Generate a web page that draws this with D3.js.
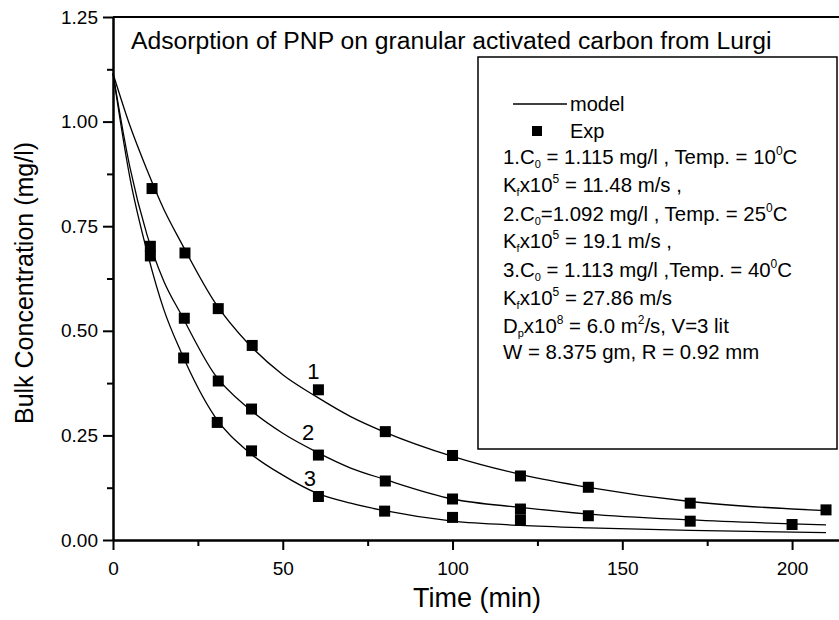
<!DOCTYPE html>
<meta charset="utf-8">
<style>
body { margin: 0; background: #fff; }
svg { background-color: #fff; font-family: "Liberation Sans", Arial, sans-serif; }
.axis path,
.axis line {
  fill: none;
  stroke: #000;
  stroke-width: 2;
}
.axis text {
  font-size: 19px;
  fill: #000;
}
.model {
  fill: none;
  stroke: #000;
  stroke-width: 1.3;
}
</style>
<svg width="839" height="620"></svg>
<script src="https://d3js.org/d3.v7.min.js"></script>
<script>

// experimental points (time in min, bulk concentration in mg/l)
var expTime1 = [11.5, 21.2, 31, 41, 60.5, 80.2, 100, 120, 140, 170, 210],
    expConc1 = [0.84, 0.686, 0.553, 0.465, 0.359, 0.259, 0.202, 0.153, 0.126, 0.088, 0.072];
var expTime2 = [11, 21, 31, 40.8, 60.5, 80.2, 100, 120, 140, 170, 200],
    expConc2 = [0.702, 0.530, 0.380, 0.313, 0.203, 0.141, 0.098, 0.074, 0.058, 0.045, 0.037];
var expTime3 = [11, 20.8, 30.7, 40.8, 60.5, 80, 100, 120],
    expConc3 = [0.679, 0.435, 0.281, 0.213, 0.104, 0.069, 0.054, 0.048];

// model curves
var modelTime = [0, 5, 10, 15, 20, 30, 40, 50, 60, 70, 80, 100, 120, 140, 170, 210];
var model1 = [1.115, 0.99, 0.885, 0.79, 0.712, 0.568, 0.468, 0.395, 0.342, 0.295, 0.258, 0.200, 0.157, 0.126, 0.092, 0.070],
    model2 = [1.115, 0.89, 0.73, 0.618, 0.54, 0.395, 0.314, 0.255, 0.210, 0.172, 0.145, 0.098, 0.078, 0.062, 0.048, 0.036],
    model3 = [1.115, 0.865, 0.69, 0.55, 0.45, 0.295, 0.210, 0.155, 0.112, 0.088, 0.070, 0.045, 0.035, 0.029, 0.023, 0.0175];

var curveLabels = ["1", "2", "3"],
    labelTime = [59, 57.5, 58],
    labelConc = [0.385, 0.24, 0.13];

var xTicks = [0, 50, 100, 150, 200],
    xMinor = [25, 75, 125, 175],
    yTicks = [0, 0.25, 0.5, 0.75, 1.0, 1.25],
    yMinor = [0.125, 0.375, 0.625, 0.875, 1.125];

var legendLines = [
  [["1.C", ""], ["0", "sub"], [" = 1.115 mg/l , Temp. = 10", ""], ["0", "sup"], ["C", ""]],
  [["K", ""], ["f", "sub"], ["x10", ""], ["5", "sup"], [" = 11.48 m/s ,", ""]],
  [["2.C", ""], ["0", "sub"], ["=1.092 mg/l , Temp. = 25", ""], ["0", "sup"], ["C", ""]],
  [["K", ""], ["f", "sub"], ["x10", ""], ["5", "sup"], [" = 19.1 m/s ,", ""]],
  [["3.C", ""], ["0", "sub"], [" = 1.113 mg/l ,Temp. = 40", ""], ["0", "sup"], ["C", ""]],
  [["K", ""], ["f", "sub"], ["x10", ""], ["5", "sup"], [" = 27.86 m/s", ""]],
  [["D", ""], ["p", "sub"], ["x10", ""], ["8", "sup"], [" = 6.0 m", ""], ["2", "sup"], ["/s, V=3 lit", ""]],
  [["W = 8.375 gm, R = 0.92 mm", ""]]
];
var legendBase = [164, 192, 221, 248, 277, 305, 333, 359];

var svg = d3.select("svg"),
    margin = {top: 17, right: -4, bottom: 80, left: 113},
    width = +svg.attr("width") - margin.left - margin.right,
    height = +svg.attr("height") - margin.top - margin.bottom;

var x = d3.scaleLinear().domain([0, 215]).range([0, width]);
var y = d3.scaleLinear().domain([0, 1.25]).range([height, 0]);

var g = svg.append("g")
    .attr("transform", "translate(" + margin.left + "," + margin.top + ")");

// minor ticks first, then major axes on top
g.append("g")
    .attr("class", "axis")
    .attr("transform", "translate(0," + height + ")")
    .call(d3.axisBottom(x).tickValues(xMinor).tickSize(6).tickSizeOuter(0).tickFormat(""));

g.append("g")
    .attr("class", "axis")
    .call(d3.axisLeft(y).tickValues(yMinor).tickSize(6).tickSizeOuter(0).tickFormat(""));

g.append("g")
    .attr("class", "axis")
    .attr("transform", "translate(0," + height + ")")
    .call(d3.axisBottom(x).tickValues(xTicks).tickSize(10).tickSizeOuter(0).tickPadding(12).tickFormat(d3.format("d")));

g.append("g")
    .attr("class", "axis")
    .call(d3.axisLeft(y).tickValues(yTicks).tickSize(10).tickSizeOuter(0).tickPadding(5).tickFormat(d3.format(".2f")));

// top frame
g.append("line")
    .attr("x1", 0).attr("x2", width)
    .attr("y1", 0).attr("y2", 0)
    .attr("stroke", "#000").attr("stroke-width", 2);

var line = d3.line()
    .x(function(d) { return x(d[0]); })
    .y(function(d) { return y(d[1]); })
    .curve(d3.curveMonotoneX);

[model1, model2, model3].forEach(function(m) {
  g.append("path")
      .attr("class", "model")
      .attr("d", line(d3.zip(modelTime, m)));
});

var points = d3.zip(expTime1, expConc1)
    .concat(d3.zip(expTime2, expConc2))
    .concat(d3.zip(expTime3, expConc3));

g.append("g").selectAll("rect")
    .data(points)
  .enter().append("rect")
    .attr("x", function(d) { return x(d[0]) - 5.5; })
    .attr("y", function(d) { return y(d[1]) - 5.5; })
    .attr("width", 11)
    .attr("height", 11)
    .attr("fill", "#000");

g.append("g").selectAll("text")
    .data(curveLabels)
  .enter().append("text")
    .attr("x", function(d, i) { return x(labelTime[i]); })
    .attr("y", function(d, i) { return y(labelConc[i]); })
    .attr("text-anchor", "middle")
    .style("font-size", "22px")
    .text(function(d) { return d; });

// title
svg.append("text")
    .attr("x", 131)
    .attr("y", 49)
    .style("font-size", "24.7px")
    .text("Adsorption of PNP on granular activated carbon from Lurgi");

// axis titles
svg.append("text")
    .attr("transform", "translate(33,283) rotate(-90)")
    .attr("text-anchor", "middle")
    .style("font-size", "25px")
    .text("Bulk Concentration (mg/l)");

svg.append("text")
    .attr("x", 477)
    .attr("y", 607)
    .attr("text-anchor", "middle")
    .style("font-size", "27px")
    .text("Time (min)");

// legend box
var legend = svg.append("g");
legend.append("rect")
    .attr("x", 478).attr("y", 57)
    .attr("width", 359).attr("height", 392)
    .attr("fill", "none")
    .attr("stroke", "#000")
    .attr("stroke-width", 1.5);

legend.append("line")
    .attr("x1", 513).attr("x2", 567)
    .attr("y1", 104).attr("y2", 104)
    .attr("stroke", "#000").attr("stroke-width", 1.3);
legend.append("text")
    .attr("x", 570).attr("y", 111)
    .style("font-size", "20px")
    .text("model");
legend.append("rect")
    .attr("x", 532).attr("y", 126)
    .attr("width", 10).attr("height", 10)
    .attr("fill", "#000");
legend.append("text")
    .attr("x", 570).attr("y", 138)
    .style("font-size", "20px")
    .text("Exp");

legendLines.forEach(function(parts, i) {
  var t = legend.append("text")
      .attr("x", 503)
      .attr("y", legendBase[i])
      .style("font-size", "20.4px");
  parts.forEach(function(p) {
    var s = t.append("tspan").text(p[0]);
    if (p[1] == "sub") s.attr("dy", 4).style("font-size", "11px");
    if (p[1] == "sup") s.attr("dy", -9).style("font-size", "12px");
    if (p[1] != "") {
      // next piece goes back to the baseline
      s.attr("data-shift", p[1] == "sub" ? -4 : 9);
    }
  });
  // reset the baseline after each sub/sup
  t.selectAll("tspan").each(function(d, j, nodes) {
    var prev = j > 0 ? nodes[j - 1].getAttribute("data-shift") : null;
    if (prev) d3.select(this).attr("dy", prev);
  });
});

</script>
